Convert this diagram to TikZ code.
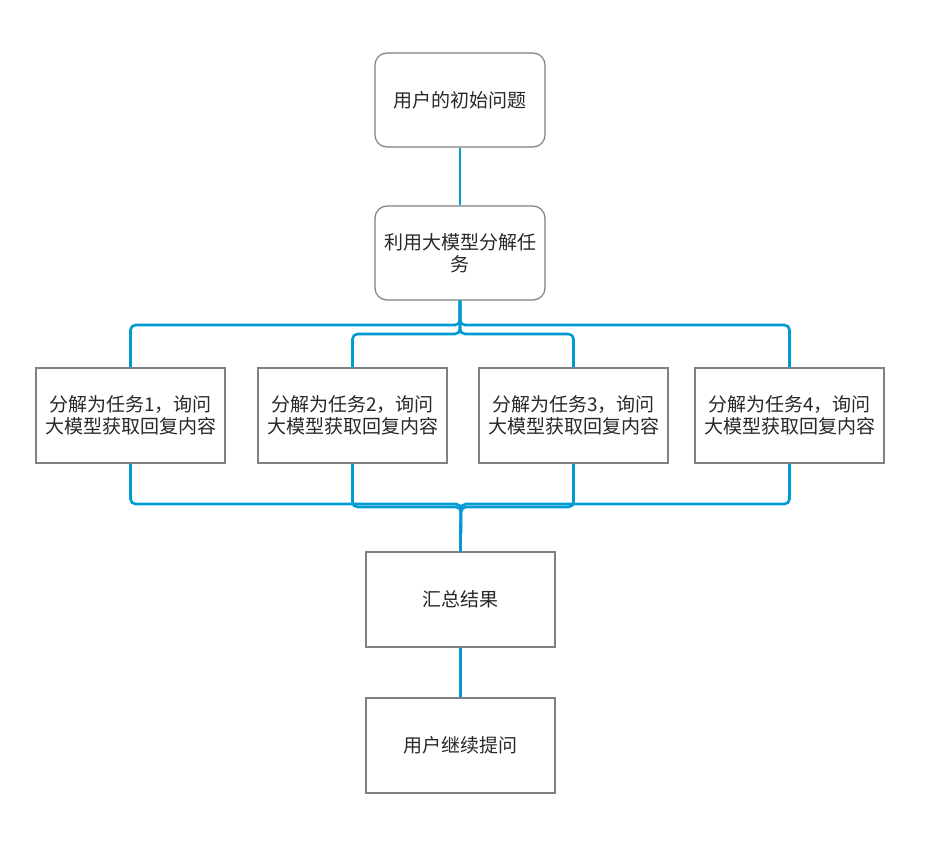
\documentclass[tikz,border=0pt]{standalone}
\usepackage{fontspec}
\newfontfamily\cjk{Noto Sans CJK SC}
\definecolor{linec}{RGB}{0,155,210}
\definecolor{boxc}{RGB}{128,128,128}
\definecolor{txtc}{RGB}{40,40,40}
\begin{document}
\begin{tikzpicture}[x=1pt,y=-1pt,
  rbox/.style={draw=boxc,line width=1.2pt,rounded corners=12pt,minimum width=170pt,minimum height=94pt,inner sep=0pt,align=center,text=txtc,font=\cjk\fontsize{19}{22.5}\selectfont},
  sbox/.style={draw=boxc,line width=1.2pt,minimum width=189pt,minimum height=95pt,inner sep=0pt,align=center,text=txtc,font=\cjk\fontsize{19}{22.5}\selectfont},
  conn/.style={draw=linec,line width=2.6pt,rounded corners=5pt}]
\useasboundingbox (0,0) rectangle (949,851);
\fill[white] (0,0) rectangle (949,851);
\node[rbox] (b1) at (460,100) {用户的初始问题};
\node[rbox] (b2) at (460,253) {利用大模型分解任\\务};
\node[sbox] (tA) at (130.5,415.5) {分解为任务1，询问\\大模型获取回复内容};
\node[sbox] (tB) at (352.5,415.5) {分解为任务2，询问\\大模型获取回复内容};
\node[sbox] (tC) at (573.5,415.5) {分解为任务3，询问\\大模型获取回复内容};
\node[sbox] (tD) at (789.5,415.5) {分解为任务4，询问\\大模型获取回复内容};
\node[sbox] (s) at (460.5,599.5) {汇总结果};
\node[sbox] (u) at (460.5,745.5) {用户继续提问};
\draw[conn] (b1.south) -- (b2.north);
\draw[conn] (b2.south) -- (460,325) -| (tA.north);
\draw[conn] (b2.south) -- (460,325) -| (tD.north);
\draw[conn] (b2.south) -- (460,334) -| (tB.north);
\draw[conn] (b2.south) -- (460,334) -| (tC.north);
\draw[conn] (tA.south) |- (461,504) -- (s.north);
\draw[conn] (tD.south) |- (461,504) -- (s.north);
\draw[conn] (tB.south) |- (461,507) -- (s.north);
\draw[conn] (tC.south) |- (461,507) -- (s.north);
\draw[conn] (s.south) -- (u.north);
\end{tikzpicture}
\end{document}
